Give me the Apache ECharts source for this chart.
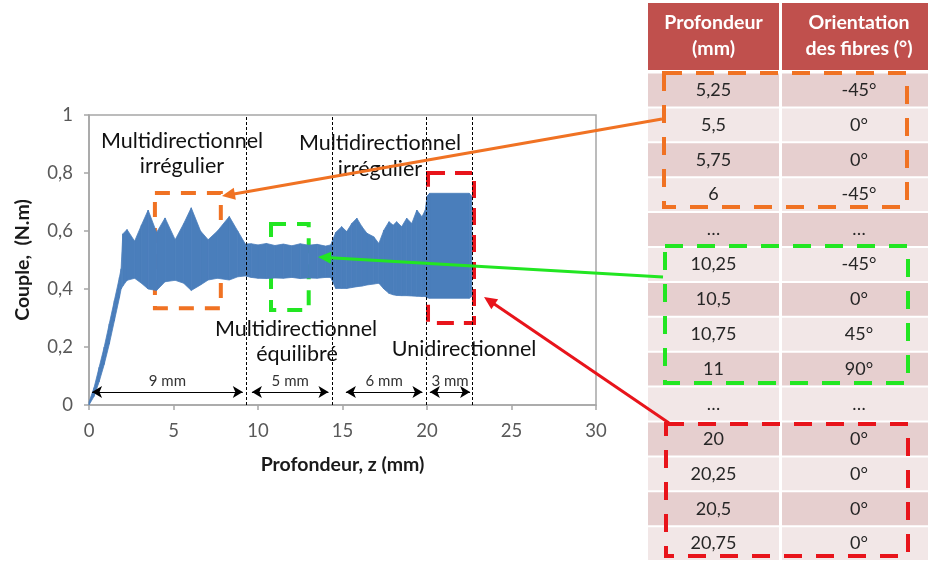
<!DOCTYPE html>
<html>
<head>
<meta charset="utf-8">
<script src="https://cdn.jsdelivr.net/npm/echarts@6/dist/echarts.min.js"></script>
<style>
  html, body { margin: 0; padding: 0; background: #fff; }
  #chart { width: 928px; height: 563px; }
</style>
</head>
<body>
<div id="chart"></div>
<script>
// Torque envelope recorded while drilling (depth in mm, torque in N.m)
const depth = [0, 0.3, 0.6, 0.9, 1.2, 1.5, 1.8, 1.9, 2.0, 2.25, 2.7, 3.1, 3.5, 4.0, 4.5, 5.1, 5.6, 6.05, 6.6, 7.05, 7.6, 8.3, 8.8, 9.25, 9.6, 10.0, 10.5, 11.0, 11.5, 12.0, 12.5, 13.0, 13.5, 14.0, 14.3, 14.6, 14.95, 15.25, 15.55, 15.85, 16.15, 16.45, 16.85, 17.15, 17.45, 17.75, 18.0, 18.2, 18.5, 18.8, 19.1, 19.4, 19.7, 19.9, 20.0, 20.15, 22.5, 22.65];
const torqueMax = [0.01, 0.06, 0.13, 0.2, 0.28, 0.36, 0.44, 0.47, 0.59, 0.605, 0.565, 0.62, 0.672, 0.595, 0.645, 0.57, 0.625, 0.68, 0.6, 0.57, 0.6, 0.65, 0.6, 0.555, 0.556, 0.552, 0.557, 0.55, 0.555, 0.549, 0.556, 0.551, 0.554, 0.548, 0.552, 0.595, 0.615, 0.598, 0.626, 0.644, 0.615, 0.592, 0.58, 0.557, 0.603, 0.632, 0.62, 0.632, 0.615, 0.644, 0.626, 0.672, 0.649, 0.672, 0.72, 0.73, 0.73, 0.72];
const torqueMin = [0, 0.03, 0.08, 0.14, 0.21, 0.29, 0.37, 0.40, 0.41, 0.43, 0.437, 0.42, 0.40, 0.395, 0.425, 0.43, 0.42, 0.395, 0.414, 0.431, 0.437, 0.431, 0.442, 0.445, 0.44, 0.437, 0.436, 0.438, 0.437, 0.44, 0.436, 0.438, 0.437, 0.44, 0.44, 0.402, 0.402, 0.402, 0.405, 0.408, 0.41, 0.414, 0.417, 0.42, 0.40, 0.385, 0.38, 0.378, 0.377, 0.377, 0.376, 0.375, 0.374, 0.374, 0.37, 0.368, 0.368, 0.375];

// Zone boundaries (mm) and the dimension spans drawn under the curve
const zoneLimits = [9.3, 14.4, 19.95, 22.65];
const spanStart = [0.18, 9.64, 15.2, 20.17];
const spanEnd = [9.1, 14.17, 19.73, 22.55];
const spanLabels = ['9 mm', '5 mm', '6 mm', '3 mm'];
const spanLevel = 0.045;

// Highlighted regions: [z from, z to, torque top, torque bottom]
const zoneBoxes = [
  [3.9, 7.8, 0.731, 0.334],
  [10.77, 13.0, 0.624, 0.328],
  [20.06, 22.78, 0.8, 0.283]
];
const zoneColors = ['#F07223', '#22E622', '#E8141B'];

// Ply stacking table
const tableHeader = [['Profondeur', '(mm)'], ['Orientation', 'des fibres (°)']];
const plyDepth = ['5,25', '5,5', '5,75', '6', '…', '10,25', '10,5', '10,75', '11', '…', '20', '20,25', '20,5', '20,75'];
const plyAngle = ['-45°', '0°', '0°', '-45°', '…', '-45°', '0°', '45°', '90°', '…', '0°', '0°', '0°', '0°'];

// Axis ticks
const xTicks = { min: 0, max: 30, step: 5 };
const yTicks = { min: 0, max: 1, step: 0.2 };

const FONT = 'Lato, "Open Sans", sans-serif';
const chart = echarts.init(document.getElementById('chart'));

function arrow(x1, y1, x2, y2, color, width, hl, hw) {
  const ang = Math.atan2(y2 - y1, x2 - x1);
  const c = Math.cos(ang), s = Math.sin(ang);
  const bx = x2 - hl * c, by = y2 - hl * s;
  return [
    { type: 'line', z: 100, shape: { x1: x1, y1: y1, x2: bx + c, y2: by + s },
      style: { stroke: color, lineWidth: width } },
    { type: 'polygon', z: 100, shape: { points: [[x2, y2], [bx - hw * s, by + hw * c], [bx + hw * s, by - hw * c]] },
      style: { fill: color } }
  ];
}

// Table geometry
const tX1 = 648, tW1 = 131, tX2 = 782, tW2 = 146;
const rowTop = 73.5, rowH = 34.9;
const graphics = [];

graphics.push({ type: 'rect', shape: { x: tX1, y: 3, width: tW1, height: 67 }, style: { fill: '#C0504D' } });
graphics.push({ type: 'rect', shape: { x: tX2, y: 3, width: tW2, height: 67 }, style: { fill: '#C0504D' } });
[[tX1 + tW1 / 2, tableHeader[0]], [tX2 + tW2 / 2 + 4, tableHeader[1]]].forEach(function (h) {
  h[1].forEach(function (t, k) {
    graphics.push({ type: 'text', x: h[0], y: 23 + k * 26, style: {
      text: t, fill: '#fff', font: 'bold 19.5px ' + FONT, textAlign: 'center', textVerticalAlign: 'middle' } });
  });
});
plyDepth.forEach(function (d, i) {
  const y = rowTop + i * rowH;
  const fill = i % 2 === 0 ? '#E6CFCF' : '#F2E7E7';
  graphics.push({ type: 'rect', shape: { x: tX1, y: y, width: tW1, height: rowH - 2 }, style: { fill: fill } });
  graphics.push({ type: 'rect', shape: { x: tX2, y: y, width: tW2, height: rowH - 2 }, style: { fill: fill } });
  const ty = y + rowH / 2 - 1;
  graphics.push({ type: 'text', x: tX1 + tW1 / 2, y: ty, style: {
    text: d, fill: '#262626', font: '18px ' + FONT, textAlign: 'center', textVerticalAlign: 'middle' } });
  graphics.push({ type: 'text', x: tX2 + tW2 / 2 + 4, y: ty, style: {
    text: plyAngle[i], fill: '#262626', font: '18px ' + FONT, textAlign: 'center', textVerticalAlign: 'middle' } });
});

// Dashed frames around the matching rows of the table
const tableFrames = [[664, 73, 243, 134], [665, 246, 243, 137], [666, 424, 242, 132]];
tableFrames.forEach(function (f, i) {
  graphics.push({ type: 'rect', z: 90, shape: { x: f[0], y: f[1], width: f[2], height: f[3] },
    style: { fill: 'none', stroke: zoneColors[i], lineWidth: 4, lineDash: [18, 14] } });
});

// Connecting arrows
arrow(662, 119, 222, 196, zoneColors[0], 3, 13, 6).forEach(function (g) { graphics.push(g); });
arrow(663, 277, 318, 257, zoneColors[1], 3, 13, 6).forEach(function (g) { graphics.push(g); });
arrow(669, 423, 484, 297, zoneColors[2], 3, 13, 6).forEach(function (g) { graphics.push(g); });

// Zone captions
const captions = [
  ['Multidirectionnel', 182, 141], ['irrégulier', 182, 166],
  ['Multidirectionnel', 380, 143], ['irrégulier', 380, 169],
  ['Multidirectionnel', 296, 329], ['équilibré', 297, 354],
  ['Unidirectionnel', 464, 349]
];
captions.forEach(function (c) {
  graphics.push({ type: 'text', x: c[1], y: c[2], z: 50, style: {
    text: c[0], fill: '#111', font: '21.5px ' + FONT, textAlign: 'center', textVerticalAlign: 'middle' } });
});

const bandData = depth.map(function (z, i) { return [z, torqueMin[i], torqueMax[i]]; });

chart.setOption({
  animation: false,
  backgroundColor: '#fff',
  grid: { left: 89, right: 332, top: 115, bottom: 158, show: true, borderColor: '#A6A6A6', borderWidth: 1.5, backgroundColor: 'transparent' },
  xAxis: {
    type: 'value', min: xTicks.min, max: xTicks.max, interval: xTicks.step,
    name: 'Profondeur, z (mm)', nameLocation: 'middle', nameGap: 50,
    nameTextStyle: { fontFamily: FONT, fontWeight: 'bold', fontSize: 19.5, color: '#1a1a1a' },
    axisLine: { lineStyle: { color: '#A6A6A6', width: 1.5 } },
    axisTick: { show: true, inside: false, length: 5, lineStyle: { color: '#A6A6A6', width: 1.5 } },
    axisLabel: { fontFamily: FONT, fontSize: 18.5, color: '#595959', margin: 17 },
    splitLine: { show: false }
  },
  yAxis: {
    type: 'value', min: yTicks.min, max: yTicks.max, interval: yTicks.step,
    name: 'Couple,  (N.m)', nameLocation: 'middle', nameGap: 56, nameRotate: 90,
    nameTextStyle: { fontFamily: FONT, fontWeight: 'bold', fontSize: 19.5, color: '#1a1a1a' },
    axisLine: { show: true, lineStyle: { color: '#A6A6A6', width: 1.5 } },
    axisTick: { show: true, inside: false, length: 5, lineStyle: { color: '#A6A6A6', width: 1.5 } },
    axisLabel: { fontFamily: FONT, fontSize: 18.5, color: '#595959', margin: 16,
      formatter: function (v) { return String(Math.round(v * 10) / 10).replace('.', ','); } },
    splitLine: { show: false }
  },
  series: [
    {
      type: 'custom',
      data: bandData,
      encode: { x: 0, y: [1, 2] },
      z: 2,
      renderItem: function (params, api) {
        const i = params.dataIndex;
        if (i >= depth.length - 1) return null;
        const p1 = api.coord([api.value(0), api.value(2)]);
        const p2 = api.coord([depth[i + 1], torqueMax[i + 1]]);
        const p3 = api.coord([depth[i + 1], torqueMin[i + 1]]);
        const p4 = api.coord([api.value(0), api.value(1)]);
        return { type: 'polygon', shape: { points: [p1, p2, p3, p4] },
          style: { fill: '#4A7EBB', stroke: '#4A7EBB', lineWidth: 0.8 } };
      }
    },
    {
      type: 'line',
      data: [],
      z: 5,
      markLine: {
        silent: true, symbol: 'none',
        lineStyle: { color: '#000', type: [3, 2], width: 1 },
        label: { show: false },
        data: zoneLimits.map(function (z) { return { xAxis: z }; })
      }
    },
    {
      type: 'line',
      data: [],
      z: 6,
      markLine: {
        silent: true, symbol: ['arrow', 'arrow'], symbolSize: [9, 10],
        lineStyle: { color: '#000', type: 'solid', width: 1 },
        label: { show: true, position: 'middle', distance: 3, formatter: '{b}',
          fontFamily: FONT, fontSize: 15, color: '#333' },
        data: spanLabels.map(function (lab, i) {
          return [{ name: lab, coord: [spanStart[i], spanLevel] }, { coord: [spanEnd[i], spanLevel] }];
        })
      }
    },
    {
      type: 'line',
      data: [],
      z: 7,
      markArea: {
        silent: true,
        data: zoneBoxes.map(function (b, i) {
          return [{ coord: [b[0], b[2]], itemStyle: { color: 'rgba(0,0,0,0)', borderColor: zoneColors[i], borderWidth: 4, borderType: i === 2 ? [17, 10] : [15, 11] } },
                  { coord: [b[1], b[3]] }];
        })
      }
    }
  ],
  graphic: graphics
});
</script>
</body>
</html>
